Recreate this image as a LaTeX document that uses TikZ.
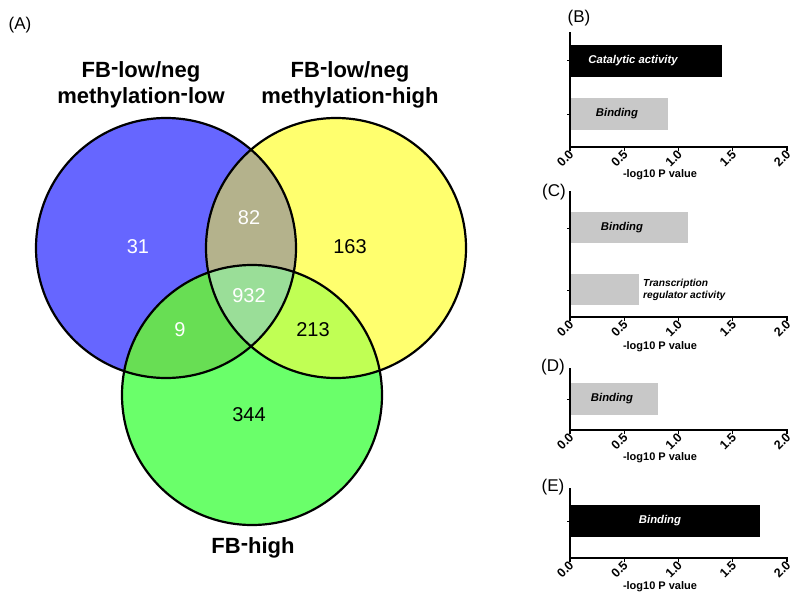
\documentclass[tikz,border=0pt]{standalone}
\usepackage{fontspec}
\setmainfont{Liberation Sans}
\newcommand\uphyph{\raisebox{0.14em}{-}}
\definecolor{cblue}{RGB}{102,102,255}
\definecolor{cyellow}{RGB}{255,255,110}
\definecolor{cgreen}{RGB}{106,255,106}
\definecolor{cby}{RGB}{180,178,140}
\definecolor{cbg}{RGB}{104,222,84}
\definecolor{cyg}{RGB}{192,255,84}
\definecolor{call}{RGB}{154,222,152}
\definecolor{cgray}{RGB}{200,200,200}
\begin{document}
\begin{tikzpicture}[x=1pt,y=-1pt,
  venntitle/.style={font=\fontsize{22}{26}\selectfont\bfseries, align=center, inner sep=0pt},
  count/.style={font=\fontsize{20}{24}\selectfont, inner sep=0pt},
  panel/.style={font=\fontsize{17}{20}\selectfont, inner sep=0pt},
  ticklab/.style={font=\fontsize{12.5}{14}\selectfont\bfseries, rotate=45, anchor=east, inner sep=0pt},
  axlab/.style={font=\fontsize{11}{13}\selectfont\bfseries, inner sep=0pt},
  barlab/.style={font=\fontsize{11.3}{13}\selectfont\bfseries\itshape, inner sep=0pt},
  axisline/.style={line width=1.6pt, line cap=rect},
  ring/.style={draw=black, line width=2.2pt}]
\useasboundingbox (0,0) rectangle (800,602);
% ---------------- Venn diagram ----------------
\def\rr{130pt}
\coordinate (cB) at (166,248);
\coordinate (cY) at (336,248);
\coordinate (cG) at (252,395);
\fill[cblue] (cB) circle[radius=\rr];
\fill[cyellow] (cY) circle[radius=\rr];
\fill[cgreen] (cG) circle[radius=\rr];
\begin{scope}
  \clip (cB) circle[radius=\rr];
  \fill[cby] (cY) circle[radius=\rr];
  \fill[cbg] (cG) circle[radius=\rr];
\end{scope}
\begin{scope}
  \clip (cY) circle[radius=\rr];
  \fill[cyg] (cG) circle[radius=\rr];
\end{scope}
\begin{scope}
  \clip (cB) circle[radius=\rr];
  \clip (cY) circle[radius=\rr];
  \fill[call] (cG) circle[radius=\rr];
\end{scope}
\draw[ring] (cB) circle[radius=\rr];
\draw[ring] (cY) circle[radius=\rr];
\draw[ring] (cG) circle[radius=\rr];
\node[panel] (lA) at (20,25) {(A)};
\node[venntitle] (tL) at (141,85) {FB\uphyph low/neg\\methylation\uphyph low};
\node[venntitle] (tR) at (350,85) {FB\uphyph low/neg\\methylation\uphyph high};
\node[venntitle] (tG) at (253,548) {FB\uphyph high};
\node[count, white] (n31) at (138,247) {31};
\node[count, white] (n82) at (249,218) {82};
\node[count] (n163) at (350,247) {163};
\node[count, white] (n932) at (249,296) {932};
\node[count, white] (n9) at (180,330) {9};
\node[count] (n213) at (313,330) {213};
\node[count] (n344) at (249,415) {344};
% ---------------- Bar charts ----------------
\def\ax{570}
\def\sc{108.5}
% (B)
\node[panel] (lB) at (579,18) {(B)};
\fill[black] (\ax,45) rectangle ({\ax+\sc*1.40},77);
\fill[cgray] (\ax,98) rectangle ({\ax+\sc*0.90},130);
\node[barlab, white] (bB1) at (633,61) {Catalytic activity};
\node[barlab] (bB2) at (617,114) {Binding};
\draw[axisline] (\ax,33) -- (\ax,147) -- ({\ax+\sc*2},147);
\foreach \yy in {61,114} \draw[line width=1pt] (\ax,\yy) -- ++(-3,0);
\foreach \v/\t [count=\k] in {0/0.0,0.5/0.5,1/1.0,1.5/1.5,2/2.0} {
  \draw[line width=1.2pt] ({\ax+\sc*\v},147) -- ++(0,4);
  \node[ticklab] (tB\k) at ({\ax+\sc*\v+1.5},152) {\t};
}
\node[axlab] (xB) at (660,175) {-log10 P value};
% (C)
\node[panel] (lC) at (554,192) {(C)};
\fill[cgray] (\ax,212) rectangle ({\ax+\sc*1.09},243);
\fill[cgray] (\ax,274) rectangle ({\ax+\sc*0.64},305);
\node[barlab] (bC1) at (622,228) {Binding};
\node[barlab, font=\fontsize{10.2}{12.5}\selectfont\bfseries\itshape, align=left, anchor=west] (bC2) at (643,290) {Transcription\\regulator activity};
\draw[axisline] (\ax,192) -- (\ax,317) -- ({\ax+\sc*2},317);
\foreach \yy in {228,290} \draw[line width=1pt] (\ax,\yy) -- ++(-3,0);
\foreach \v/\t [count=\k] in {0/0.0,0.5/0.5,1/1.0,1.5/1.5,2/2.0} {
  \draw[line width=1.2pt] ({\ax+\sc*\v},317) -- ++(0,4);
  \node[ticklab] (tC\k) at ({\ax+\sc*\v+1.5},322) {\t};
}
\node[axlab] (xC) at (660,347) {-log10 P value};
% (D)
\node[panel] (lD) at (553,367) {(D)};
\fill[cgray] (\ax,383) rectangle ({\ax+\sc*0.81},415);
\node[barlab] (bD1) at (612,399) {Binding};
\draw[axisline] (\ax,369) -- (\ax,430) -- ({\ax+\sc*2},430);
\draw[line width=1pt] (\ax,399) -- ++(-3,0);
\foreach \v/\t [count=\k] in {0/0.0,0.5/0.5,1/1.0,1.5/1.5,2/2.0} {
  \draw[line width=1.2pt] ({\ax+\sc*\v},430) -- ++(0,4);
  \node[ticklab] (tD\k) at ({\ax+\sc*\v+1.5},435) {\t};
}
\node[axlab] (xD) at (660,458) {-log10 P value};
% (E)
\node[panel] (lE) at (553,487) {(E)};
\fill[black] (\ax,505) rectangle ({\ax+\sc*1.75},537);
\node[barlab, white] (bE1) at (660,521) {Binding};
\draw[axisline] (\ax,489) -- (\ax,558) -- ({\ax+\sc*2},558);
\draw[line width=1pt] (\ax,521) -- ++(-3,0);
\foreach \v/\t [count=\k] in {0/0.0,0.5/0.5,1/1.0,1.5/1.5,2/2.0} {
  \draw[line width=1.2pt] ({\ax+\sc*\v},558) -- ++(0,4);
  \node[ticklab] (tE\k) at ({\ax+\sc*\v+1.5},563) {\t};
}
\node[axlab] (xE) at (660,587) {-log10 P value};
\end{tikzpicture}
\end{document}
